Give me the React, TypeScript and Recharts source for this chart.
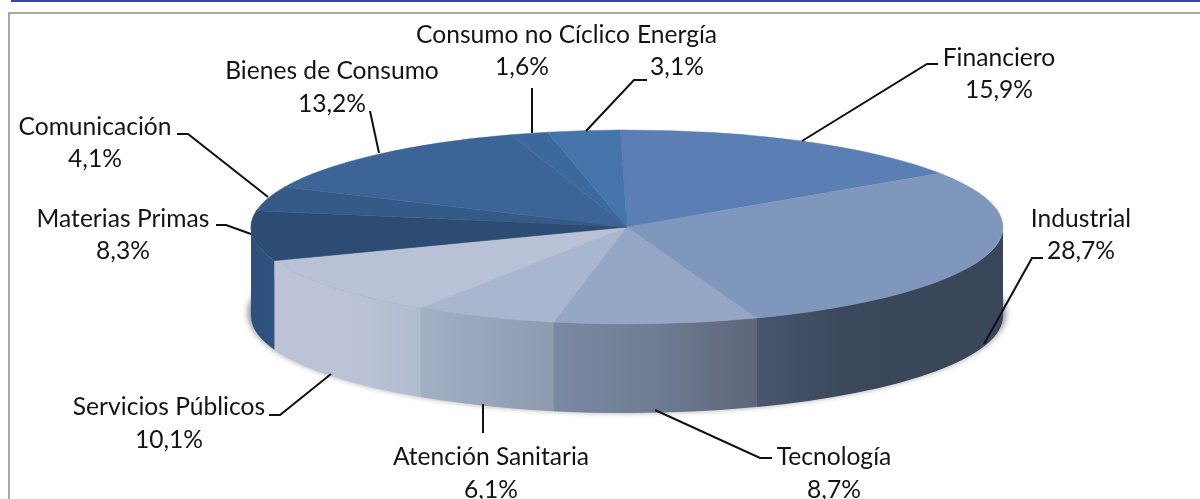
import { PieChart, Pie } from "recharts";

const categories = [
  "Financiero",
  "Industrial",
  "Tecnología",
  "Atención Sanitaria",
  "Servicios Públicos",
  "Materias Primas",
  "Comunicación",
  "Bienes de Consumo",
  "Consumo no Cíclico",
  "Energía",
];
const values = [15.9, 28.7, 8.7, 6.1, 10.1, 8.3, 4.1, 13.2, 1.6, 3.1];

const topColors = [
  "#5b7fb4",
  "#7f97bd",
  "#96a6c6",
  "#a9b6cf",
  "#b9c1d6",
  "#2c4c73",
  "#355a87",
  "#3c6496",
  "#3d689b",
  "#4574aa",
];
// left to right across the visible wall of each slice
const wallColors: (string[] | null)[] = [
  null,
  ["#4a566f", "#3c485c", "#394558", "#3a4659"],
  ["#7a89a2", "#6f7c94", "#5e6578"],
  ["#a2afc5", "#98a5ba", "#8e9aae"],
  ["#bcc3d6", "#bcc3d6", "#b2bcd0"],
  ["#2d4f7b", "#2f5481"],
  null,
  null,
  null,
  null,
];

// name centre, name baseline, percent baseline and leader line for each label
const labelLayout = [
  { x: 999, y: 66, py: 98, px: 999, line: [[802, 141], [927, 64], [938, 64]] },
  { x: 1081, y: 227, py: 259, px: 1081, line: [[984, 344], [1032, 258], [1043, 258]] },
  { x: 834, y: 465, py: 498, px: 834, line: [[655, 410], [760, 458], [772, 458]] },
  { x: 491, y: 465, py: 498, px: 491, line: [[483, 404], [483, 433]] },
  { x: 169, y: 415, py: 448, px: 169, line: [[331, 374], [280, 415], [269, 415]] },
  { x: 123, y: 227, py: 259, px: 123, line: [[251, 234], [226, 225], [216, 225]] },
  { x: 95, y: 135, py: 167, px: 95, line: [[268, 197], [188, 134], [177, 134]] },
  { x: 332, y: 79, py: 112, px: 332, line: [[379, 153], [370, 111]] },
  { x: 523, y: 43, py: 75, px: 522, line: [[532, 133], [532, 88]] },
  { x: 677, y: 43, py: 75, px: 677, line: [[586, 131], [634, 80], [647, 80]] },
];

const chartData = categories.map((name, i) => ({ name, value: values[i] }));

const SQUASH = 0.258;
const DEPTH = 89;
const CX = 627;
const CY = 227;

const point = (cx: number, cy: number, rx: number, ry: number, deg: number) => {
  const a = (deg * Math.PI) / 180;
  return [cx + rx * Math.cos(a), cy - ry * Math.sin(a)];
};

const SliceShape = (props: any) => {
  const { cx, cy, outerRadius, startAngle, endAngle, index } = props;
  const rx = outerRadius;
  const ry = outerRadius * SQUASH;
  const [x0, y0] = point(cx, cy, rx, ry, startAngle);
  const [x1, y1] = point(cx, cy, rx, ry, endAngle);
  const large = startAngle - endAngle > 180 ? 1 : 0;
  const top = `M${cx},${cy}L${x0},${y0}A${rx},${ry} 0 ${large} 1 ${x1},${y1}Z`;

  // only the part of the rim facing the viewer (below the horizontal axis)
  const from = Math.min(startAngle, 0);
  const to = Math.max(endAngle, -180);
  const stops = wallColors[index];
  let wall = null;
  if (stops && from > to) {
    const [wx0, wy0] = point(cx, cy, rx, ry, from);
    const [wx1, wy1] = point(cx, cy, rx, ry, to);
    wall = (
      <>
        <linearGradient id={`wall${index}`} x1="0" y1="0" x2="1" y2="0">
          {stops.map((c, k) => (
            <stop key={k} offset={k / (stops.length - 1)} stopColor={c} />
          ))}
        </linearGradient>
        <path
          d={`M${wx0},${wy0}A${rx},${ry} 0 0 1 ${wx1},${wy1}L${wx1},${wy1 + DEPTH}A${rx},${ry} 0 0 0 ${wx0},${wy0 + DEPTH}Z`}
          fill={`url(#wall${index})`}
        />
      </>
    );
  }

  return (
    <g>
      {index === 0 && (
        <>
          <filter id="floorBlur" x="-5%" y="-20%" width="110%" height="140%">
            <feGaussianBlur stdDeviation="3" />
          </filter>
          <ellipse
            cx={cx}
            cy={cy + DEPTH - 3}
            rx={rx + 3}
            ry={ry + 2}
            fill="#000"
            opacity={0.45}
            filter="url(#floorBlur)"
          />
        </>
      )}
      {wall}
      <path d={top} fill={topColors[index]} stroke={topColors[index]} strokeWidth={0.5} />
    </g>
  );
};

const renderLabel = (props: any) => {
  const { index, value } = props;
  const { x, y, px, py, line } = labelLayout[index];
  const pct = `${String(value).replace(".", ",")}%`;
  return (
    <g key={index}>
      <polyline
        points={line.map((p) => p.join(",")).join(" ")}
        fill="none"
        stroke="#111"
        strokeWidth={2}
      />
      <text x={x} y={y} textAnchor="middle" fontFamily="Lato" fontSize={24.6} fill="#141414">
        {categories[index]}
      </text>
      <text x={px} y={py} textAnchor="middle" fontFamily="Lato" fontSize={24.6} fill="#141414">
        {pct}
      </text>
    </g>
  );
};

export default function App() {
  return (
    <div style={{ position: "fixed", left: 0, top: 0, width: 1200, height: 499, background: "#fff" }}>
      <div style={{ position: "absolute", left: 11, top: 0, width: 1189, height: 2, background: "#3d40a8" }} />
      <div
        style={{
          position: "absolute",
          left: 8,
          top: 12,
          width: 1192,
          height: 487,
          borderTop: "2px solid #a8a8a8",
          borderLeft: "2px solid #a8a8a8",
          boxSizing: "border-box",
        }}
      />
      <div style={{ position: "absolute", left: 0, top: 0, filter: "blur(0.4px)" }}>
        <PieChart width={1200} height={499} margin={{ top: 0, right: 0, bottom: 0, left: 0 }}>
          <Pie
            data={chartData}
            dataKey="value"
            nameKey="name"
            cx={CX}
            cy={CY}
            innerRadius={0}
            outerRadius={376}
            startAngle={91}
            endAngle={-269}
            paddingAngle={0}
            stroke="none"
            shape={SliceShape}
            label={renderLabel}
            labelLine={false}
            isAnimationActive={false}
          />
        </PieChart>
      </div>
    </div>
  );
}
